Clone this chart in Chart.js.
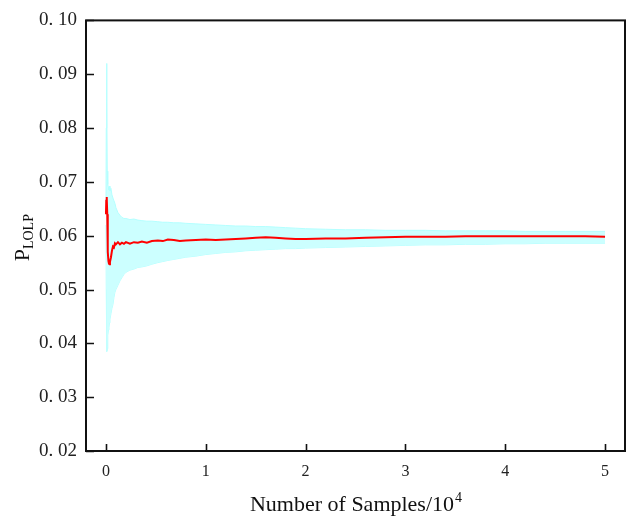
<!DOCTYPE html>
<html>
<head>
<meta charset="utf-8">
<style>
  html, body { margin: 0; padding: 0; background: #fff; }
  #chart { display: block; }
</style>
<script src="https://cdn.jsdelivr.net/npm/chart.js@4.4.1/dist/chart.umd.min.js"></script>
</head>
<body>
<canvas id="chart" width="635" height="529"></canvas>
<script>
// number of samples, in units of 10^4
let sampleX = [0, 0.003, 0.006, 0.01, 0.013, 0.016, 0.02, 0.025, 0.03, 0.035, 0.04, 0.05, 0.06, 0.07, 0.08, 0.09,
    0.10, 0.12, 0.14, 0.16, 0.18, 0.20, 0.24, 0.28, 0.32, 0.36, 0.41, 0.46, 0.52, 0.57, 0.62, 0.68, 0.74, 0.8, 0.9,
    1.0, 1.1, 1.2, 1.3, 1.4, 1.5, 1.6, 1.7, 1.8, 1.9, 2.0, 2.2, 2.4, 2.6, 2.8, 3.0, 3.2, 3.4, 3.6, 3.8, 4.0, 4.2,
    4.4, 4.6, 4.8, 5.0];

// running estimate of P_LOLP
let meanP = [0.0640, 0.0665, 0.0672, 0.0668, 0.0640, 0.0600, 0.0570, 0.0553, 0.0548, 0.0547, 0.0551, 0.0560,
    0.0572, 0.0580, 0.0578, 0.0586, 0.0584, 0.0588, 0.0584, 0.0587, 0.0585, 0.0588, 0.0585, 0.0588, 0.0587,
    0.0589, 0.0587, 0.0590, 0.0591, 0.0590, 0.0593, 0.0592, 0.0590, 0.0591, 0.0592, 0.0593, 0.0592, 0.0593,
    0.0594, 0.0595, 0.0596, 0.0597, 0.0596, 0.0595, 0.0594, 0.0594, 0.0595, 0.0595, 0.0596, 0.0597, 0.0598,
    0.0598, 0.0598, 0.0599, 0.0599, 0.0599, 0.0599, 0.0599, 0.0599, 0.0599, 0.0598];

// confidence band
let upperP = [0.0660, 0.0800, 0.0920, 0.0850, 0.0720, 0.0700, 0.0695, 0.0690, 0.0685, 0.0692, 0.0683, 0.0688,
    0.0676, 0.0670, 0.0665, 0.0660, 0.0652, 0.0643, 0.0638, 0.0634, 0.0632, 0.0632, 0.0630, 0.0631, 0.0629,
    0.0628, 0.0627, 0.0627, 0.0626, 0.0625, 0.0625, 0.0624, 0.0624, 0.0623, 0.0622, 0.0621, 0.0620, 0.0619,
    0.0618, 0.0618, 0.0617, 0.0617, 0.0616, 0.0615, 0.0614, 0.0613, 0.0612, 0.0611, 0.0611, 0.0610, 0.0610,
    0.0610, 0.0609, 0.0609, 0.0609, 0.0609, 0.0608, 0.0608, 0.0608, 0.0608, 0.0608];
let lowerP = [0.0620, 0.0500, 0.0400, 0.0385, 0.0390, 0.0405, 0.0415, 0.0425, 0.0430, 0.0438, 0.0445, 0.0455,
    0.0465, 0.0472, 0.0485, 0.0495, 0.0500, 0.0508, 0.0516, 0.0522, 0.0528, 0.0532, 0.0536, 0.0538, 0.0541,
    0.0542, 0.0544, 0.0547, 0.0550, 0.0552, 0.0554, 0.0556, 0.0558, 0.0560, 0.0562, 0.0565, 0.0567, 0.0569,
    0.0570, 0.0572, 0.0573, 0.0574, 0.0575, 0.0576, 0.0576, 0.0577, 0.0578, 0.0579, 0.0580, 0.0581, 0.0582,
    0.0583, 0.0583, 0.0584, 0.0584, 0.0585, 0.0585, 0.0586, 0.0586, 0.0586, 0.0586];

let xTicks = [0, 1, 2, 3, 4, 5];
let yTicks = [0.02, 0.03, 0.04, 0.05, 0.06, 0.07, 0.08, 0.09, 0.10];

const SERIF = "'Liberation Serif', 'DejaVu Serif', serif";

function toPoints(ys) {
    return sampleX.map((x, i) => ({ x: x, y: ys[i] }));
}

// box frame, inward ticks and the axis titles with sub/superscripts
const framePlugin = {
    id: 'frame',
    afterDraw(chart) {
        const ctx = chart.ctx;
        const a = chart.chartArea;
        const xs = chart.scales.x, ys = chart.scales.y;
        ctx.save();
        ctx.strokeStyle = '#111';
        ctx.lineWidth = 2;
        ctx.strokeRect(a.left, a.top, a.right - a.left, a.bottom - a.top);
        ctx.lineWidth = 1.6;
        ctx.beginPath();
        xTicks.forEach(v => {
            let px = Math.round(xs.getPixelForValue(v)) + 0.5;
            ctx.moveTo(px, a.bottom);
            ctx.lineTo(px, a.bottom - 7);
        });
        yTicks.forEach(v => {
            let py = Math.round(ys.getPixelForValue(v)) + 0.5;
            ctx.moveTo(a.left, py);
            ctx.lineTo(a.left + 8, py);
        });
        ctx.stroke();

        // x title: Number of Samples/10^4
        ctx.fillStyle = '#111';
        ctx.textBaseline = 'alphabetic';
        let main = 'Number of Samples/10';
        ctx.font = '22px ' + SERIF;
        let w1 = ctx.measureText(main).width;
        ctx.font = '14px ' + SERIF;
        let w2 = ctx.measureText('4').width;
        let cx = (a.left + a.right) / 2;
        let x0 = cx - (w1 + w2) / 2;
        ctx.textAlign = 'left';
        ctx.font = '22px ' + SERIF;
        ctx.fillText(main, x0, 511);
        ctx.font = '14px ' + SERIF;
        ctx.fillText('4', x0 + w1 + 1, 502);

        // y title: P_LOLP
        ctx.save();
        ctx.translate(29, (a.top + a.bottom) / 2 + 2);
        ctx.rotate(-Math.PI / 2);
        ctx.font = '22px ' + SERIF;
        let wp = ctx.measureText('P').width;
        ctx.font = '14px ' + SERIF;
        let ws = ctx.measureText('LOLP').width;
        let sx = -(wp + ws) / 2;
        ctx.font = '22px ' + SERIF;
        ctx.fillText('P', sx, 0);
        ctx.font = '14px ' + SERIF;
        ctx.fillText('LOLP', sx + wp, 4);
        ctx.restore();

        ctx.restore();
    }
};

new Chart(document.getElementById('chart'), {
    type: 'line',
    data: {
        datasets: [
            {
                label: 'mean',
                data: toPoints(meanP),
                borderColor: '#ff0000',
                borderWidth: 2,
                fill: false,
                pointRadius: 0,
                tension: 0,
                order: 0
            },
            {
                label: 'upper',
                data: toPoints(upperP),
                borderColor: '#b4ffff',
                borderWidth: 1,
                backgroundColor: '#ccffff',
                fill: '+1',
                pointRadius: 0,
                tension: 0,
                order: 1
            },
            {
                label: 'lower',
                data: toPoints(lowerP),
                borderColor: '#b4ffff',
                borderWidth: 1,
                backgroundColor: '#ccffff',
                fill: false,
                pointRadius: 0,
                tension: 0,
                order: 2
            }
        ]
    },
    options: {
        responsive: false,
        animation: false,
        events: [],
        layout: { padding: { top: 20, right: 10, left: 0, bottom: 0 } },
        plugins: {
            legend: { display: false },
            tooltip: { enabled: false }
        },
        scales: {
            x: {
                type: 'linear',
                min: -0.2,
                max: 5.2,
                grid: { display: false, drawTicks: false },
                border: { display: false },
                afterBuildTicks: s => { s.ticks = xTicks.map(v => ({ value: v })); },
                afterFit: s => { s.height = 78; },
                ticks: {
                    padding: 11,
                    color: '#222',
                    font: { family: SERIF, size: 16 },
                    maxRotation: 0,
                    callback: v => String(v)
                }
            },
            y: {
                type: 'linear',
                min: 0.02,
                max: 0.10,
                grid: { display: false, drawTicks: false },
                border: { display: false },
                afterBuildTicks: s => { s.ticks = yTicks.map(v => ({ value: v })); },
                afterFit: s => { s.width = 86; },
                ticks: {
                    padding: 9,
                    color: '#222',
                    font: { family: SERIF, size: 19 },
                    callback: v => Number(v).toFixed(2).replace('.', '. ')
                }
            }
        }
    },
    plugins: [framePlugin]
});
</script>
</body>
</html>
